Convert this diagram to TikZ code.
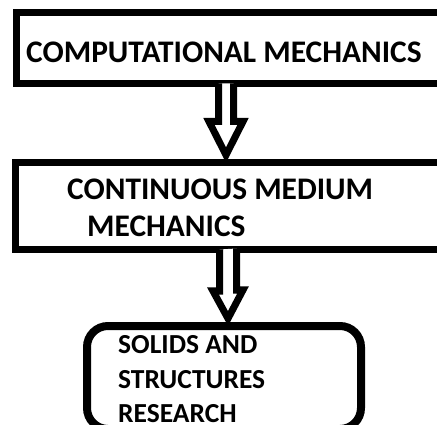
\documentclass[tikz,border=0pt]{standalone}
\usepackage{fontspec}
\setmainfont{Carlito}
\usetikzlibrary{calc}

\tikzset{
  frame/.style={draw=black, line width=7pt, outer sep=0pt, inner sep=0pt, anchor=north west},
  roundframe/.style={frame, line width=8pt, rounded corners=21pt},
  hollow/.style={draw=black, line width=7pt, line join=miter, fill=white},
  label/.style={inner sep=0pt, anchor=base west, align=left, text=black},
  bigtext/.style={label, font=\fontsize{31.4}{36.5}\selectfont\bfseries},
  smalltext/.style={label, font=\fontsize{27.5}{34.3}\selectfont\bfseries}
}

\begin{document}
\begin{tikzpicture}[x=1pt, y=-1pt]
\useasboundingbox (0,0) rectangle (437,425);
\clip (0,0) rectangle (437,425);
\fill[white] (0,0) rectangle (437,425);

% the three boxes
\node[frame, minimum width=430pt, minimum height=71pt] (b1) at (16,12.5) {};
\node[frame, minimum width=430pt, minimum height=87pt] (b2) at (15.5,162.5) {};
\node[roundframe, minimum width=274pt, minimum height=103pt] (b3) at (87,326) {};

% their captions (multi-line nodes sit on the baseline of their last line)
\node[bigtext] (t1) at (26,63) {COMPUTATIONAL MECHANICS};
\node[bigtext] (t2) at (67,236.5) {CONTINUOUS MEDIUM\\\hspace*{20pt}MECHANICS};
\node[smalltext] (t3) at (118,422.5) {SOLIDS AND\\STRUCTURES\\RESEARCH};

% hollow block arrows between the boxes
\coordinate (a1top) at ([xshift=210pt]b1.south west);
\coordinate (a1tip) at ([yshift=7.5pt]a1top |- b2.north);
\draw[hollow] ([xshift=-7.5pt]a1top) -- ++(0,38) -- ++(-9.5,0) -- (a1tip)
  -- ++(17,-33.5) -- ++(-9.5,0) -- ++(0,-38);

\coordinate (a2top) at ([xshift=212.5pt]b2.south west);
\coordinate (a2tip) at ([yshift=7.5pt]a2top |- b3.north);
\draw[hollow] ([xshift=-8.5pt]a2top) -- ++(0,41.5) -- ++(-6.5,0) -- (a2tip)
  -- ++(15,-28.5) -- ++(-6.5,0) -- ++(0,-41.5);
\end{tikzpicture}
\end{document}
